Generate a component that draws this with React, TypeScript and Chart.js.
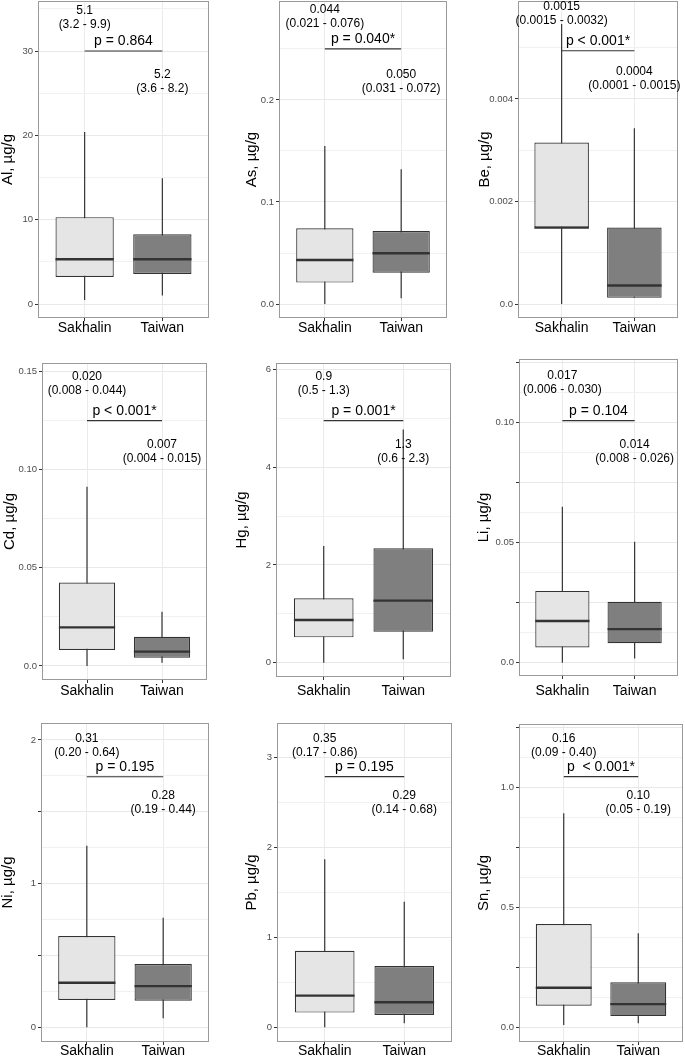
import React, { useEffect, useRef } from "react";
import { Chart, registerables } from "chart.js";

Chart.register(...registerables);

const FONT = "'Liberation Sans', Arial, Helvetica, sans-serif";

// ---------------- data ----------------
const elements = ["Al", "As", "Be", "Cd", "Hg", "Li", "Ni", "Pb", "Sn"];
const groups = ["Sakhalin", "Taiwan"];

// box-plot statistics (µg/g)
const sakhalinMin = [0.47, 0.0, 0.0, 0.0, 0.0, 0.0, 0.0, 0.0, 0.01];
const sakhalinQ1 = [3.2, 0.021, 0.00149, 0.0082, 0.519, 0.0063, 0.19, 0.163, 0.09];
const sakhalinMedian = [5.3, 0.0431, 0.00149, 0.0197, 0.873, 0.0174, 0.31, 0.352, 0.165];
const sakhalinQ3 = [10.3, 0.0742, 0.00315, 0.0425, 1.317, 0.0299, 0.635, 0.852, 0.431];
const sakhalinMax = [20.4, 0.155, 0.00546, 0.0914, 2.386, 0.065, 1.264, 1.869, 0.893];

const taiwanMin = [1.0, 0.0056, 0.00012, 0.0017, 0.07, 0.0018, 0.063, 0.044, 0.017];
const taiwanQ1 = [3.56, 0.0307, 0.00012, 0.0042, 0.634, 0.0081, 0.185, 0.137, 0.047];
const taiwanMedian = [5.3, 0.0497, 0.00036, 0.0073, 1.27, 0.014, 0.287, 0.278, 0.097];
const taiwanQ3 = [8.26, 0.0716, 0.00149, 0.0149, 2.34, 0.0254, 0.44, 0.682, 0.188];
const taiwanMax = [14.9, 0.132, 0.00343, 0.0277, 4.77, 0.0504, 0.763, 1.397, 0.392];

// annotation texts
const sakhalinMedianText = ["5.1", "0.044", "0.0015", "0.020", "0.9", "0.017", "0.31", "0.35", "0.16"];
const sakhalinRangeText = ["(3.2 - 9.9)", "(0.021 - 0.076)", "(0.0015 - 0.0032)", "(0.008 - 0.044)", "(0.5 - 1.3)", "(0.006 - 0.030)", "(0.20 - 0.64)", "(0.17 - 0.86)", "(0.09 - 0.40)"];
const taiwanMedianText = ["5.2", "0.050", "0.0004", "0.007", "1.3", "0.014", "0.28", "0.29", "0.10"];
const taiwanRangeText = ["(3.6 - 8.2)", "(0.031 - 0.072)", "(0.0001 - 0.0015)", "(0.004 - 0.015)", "(0.6 - 2.3)", "(0.008 - 0.026)", "(0.19 - 0.44)", "(0.14 - 0.68)", "(0.05 - 0.19)"];
const pValueText = ["p = 0.864", "p = 0.040*", "p < 0.001*", "p < 0.001*", "p = 0.001*", "p = 0.104", "p = 0.195", "p = 0.195", "p  < 0.001*"];

// annotation anchors in data units
const sakhalinLabelY = [34.0, 0.2812, 0.005655, 0.144, 5.71, 0.1165, 1.962, 3.137, 1.1765];
const pLineY = [30, 0.25, 0.00494, 0.125, 4.95, 0.1008, 1.744, 2.788, 1.0455];
const taiwanLabelY = [26.4, 0.218, 0.004387, 0.1094, 4.31, 0.0879, 1.561, 2.494, 0.936];

// axes
const yMin = [-1.66, -0.0137, -0.000273, -0.00714, -0.292, -0.00554, -0.102, -0.164, -0.061];
const yMax = [35.93, 0.297, 0.00591, 0.1544, 6.13, 0.1265, 2.118, 3.385, 1.265];
const yTickValues = [
  [0, 10, 20, 30],
  [0, 0.1, 0.2],
  [0, 0.002, 0.004],
  [0, 0.05, 0.1, 0.15],
  [0, 2, 4, 6],
  [0, 0.025, 0.05, 0.075, 0.1, 0.125],
  [0, 0.5, 1, 1.5, 2],
  [0, 1, 2, 3],
  [0, 0.25, 0.5, 0.75, 1, 1.25],
];
const yTickLabels = [
  ["0", "10", "20", "30"],
  ["0.0", "0.1", "0.2"],
  ["0.0", "0.002", "0.004"],
  ["0.0", "0.05", "0.10", "0.15"],
  ["0", "2", "4", "6"],
  ["0.0", "", "0.05", "", "0.10", ""],
  ["0", "", "1", "", "2"],
  ["0", "1", "2", "3"],
  ["0.0", "", "0.5", "", "1.0", ""],
];
const yMinorStep = [5, 0.05, 0.001, 0.025, 1, 0.0125, 0.25, 0.5, 0.125];

// ---------------- layout (page pixels) ----------------
const cellX = [0, 228, 455];
const cellW = [228, 227, 230];
const cellY = [0, 340, 700];
const cellH = [340, 360, 358];
const plotLeft = [38, 279, 518, 42, 276, 519, 41, 277, 519];
const plotTop = [1, 1, 1, 363, 363, 359, 723, 723, 724];
const plotRight = [209, 447, 678, 207, 451, 678, 209, 452, 683];
const plotBottom = [318, 318, 318, 680, 677, 676, 1042, 1042, 1042];
const titleCenterX = [8, 252, 485, 10, 242, 484, 8, 252, 484];
const xLabelCenterY = [328, 328, 328, 691, 691, 691, 1051.5, 1051.5, 1051.5];

const BOX_FILL = ["#e5e5e5", "#7f7f7f"];
const INK = "#333333";
const TITLE_SIZE = 15;

function geom(i: number) {
  const col = i % 3;
  const row = Math.floor(i / 3);
  return { x: cellX[col], y: cellY[row], w: cellW[col], h: cellH[row] };
}

function makePlugin(i: number) {
  const mins = [sakhalinMin[i], taiwanMin[i]];
  const maxs = [sakhalinMax[i], taiwanMax[i]];
  const meds = [sakhalinMedian[i], taiwanMedian[i]];
  return {
    id: "boxAnno" + i,
    beforeDatasetsDraw(chart: any) {
      const { ctx } = chart;
      const xs = chart.scales.x;
      const ys = chart.scales.y;
      ctx.save();
      ctx.strokeStyle = INK;
      ctx.lineWidth = 1.2;
      groups.forEach((_, j) => {
        const x = xs.getPixelForValue(j);
        ctx.beginPath();
        ctx.moveTo(x, ys.getPixelForValue(mins[j]));
        ctx.lineTo(x, ys.getPixelForValue(maxs[j]));
        ctx.stroke();
      });
      ctx.restore();
    },
    afterDatasetsDraw(chart: any) {
      const { ctx, chartArea } = chart;
      const xs = chart.scales.x;
      const ys = chart.scales.y;
      const meta = chart.getDatasetMeta(0);
      ctx.save();
      // medians
      ctx.strokeStyle = INK;
      ctx.lineWidth = 2.4;
      meta.data.forEach((bar: any, j: number) => {
        const { x, width } = bar.getProps(["x", "width"], true);
        const y = ys.getPixelForValue(meds[j]);
        ctx.beginPath();
        ctx.moveTo(x - width / 2, y);
        ctx.lineTo(x + width / 2, y);
        ctx.stroke();
      });
      // panel border
      ctx.strokeStyle = "#9a9a9a";
      ctx.lineWidth = 1;
      ctx.strokeRect(
        chartArea.left + 0.5,
        chartArea.top + 0.5,
        chartArea.right - chartArea.left - 1,
        chartArea.bottom - chartArea.top - 1
      );
      // annotations
      ctx.fillStyle = "#000";
      ctx.textAlign = "center";
      ctx.textBaseline = "middle";
      ctx.font = `12px ${FONT}`;
      const x0 = xs.getPixelForValue(0);
      const x1 = xs.getPixelForValue(1);
      const ys0 = ys.getPixelForValue(sakhalinLabelY[i]);
      ctx.fillText(sakhalinMedianText[i], x0, ys0 - 7);
      ctx.fillText(sakhalinRangeText[i], x0, ys0 + 7);
      const ys1 = ys.getPixelForValue(taiwanLabelY[i]);
      ctx.fillText(taiwanMedianText[i], x1, ys1 - 7);
      ctx.fillText(taiwanRangeText[i], x1, ys1 + 7);
      const yl = ys.getPixelForValue(pLineY[i]);
      ctx.strokeStyle = INK;
      ctx.lineWidth = 1.2;
      ctx.beginPath();
      ctx.moveTo(x0, yl);
      ctx.lineTo(x1, yl);
      ctx.stroke();
      ctx.font = `14px ${FONT}`;
      ctx.fillText(pValueText[i], (x0 + x1) / 2, yl - 9.5);
      ctx.restore();
    },
  };
}

function makeChart(canvas: HTMLCanvasElement, i: number) {
  const g = geom(i);
  const yScaleWidth = plotLeft[i] - g.x;
  const xScaleHeight = g.y + g.h - plotBottom[i];
  const padTop = plotTop[i] - g.y;
  const padRight = g.x + g.w - plotRight[i];
  const step = yMinorStep[i];
  const tickVals = yTickValues[i];
  const tickLabs = yTickLabels[i];
  const tickIndex = (v: number) => tickVals.findIndex((t) => Math.abs(t - v) < step * 1e-3);
  const gridVals: number[] = [];
  for (let k = Math.ceil(yMin[i] / step - 1e-9); k * step <= yMax[i] + step * 1e-9; k++) {
    gridVals.push(parseFloat((k * step).toPrecision(10)));
  }
  const xPad = xLabelCenterY[i] - plotBottom[i] - 3 - 7;
  const q1 = [sakhalinQ1[i], taiwanQ1[i]];
  const q3 = [sakhalinQ3[i], taiwanQ3[i]];

  return new Chart(canvas, {
    type: "bar",
    data: {
      datasets: [
        {
          data: groups.map((_, j) => ({ x: j, y: [q1[j], q3[j]] })) as any,
          backgroundColor: BOX_FILL,
          borderColor: INK,
          borderWidth: 1.2,
          borderSkipped: false,
          barPercentage: 0.75,
          categoryPercentage: 1,
        },
      ],
    },
    options: {
      responsive: false,
      animation: false,
      devicePixelRatio: 1,
      events: [],
      layout: { padding: { left: 0, top: padTop, right: padRight, bottom: 0 } },
      plugins: { legend: { display: false }, tooltip: { enabled: false } },
      scales: {
        x: {
          type: "linear",
          min: -0.6,
          max: 1.6,
          offset: false,
          afterBuildTicks: (s: any) => {
            s.ticks = groups.map((_, j) => ({ value: j }));
          },
          afterFit: (s: any) => {
            s.height = xScaleHeight;
            s.paddingLeft = 0;
            s.paddingRight = 0;
          },
          ticks: {
            autoSkip: false,
            maxRotation: 0,
            padding: xPad,
            color: "#000",
            font: { family: FONT, size: 14, lineHeight: 1 },
            callback: (v: any) => groups[v] ?? "",
          },
          grid: { color: "#ebebeb", lineWidth: 1, tickLength: 3, tickColor: INK, offset: false },
          border: { display: false },
        },
        y: {
          type: "linear",
          min: yMin[i],
          max: yMax[i],
          bounds: "data",
          afterBuildTicks: (s: any) => {
            s.ticks = gridVals.map((v) => ({ value: v }));
          },
          afterFit: (s: any) => {
            s.width = yScaleWidth;
            s.paddingTop = 0;
            s.paddingBottom = 0;
          },
          ticks: {
            autoSkip: false,
            padding: 2,
            color: "#4d4d4d",
            font: { family: FONT, size: 9.5, lineHeight: 1 },
            callback: (v: any) => {
              const k = tickIndex(v);
              return k >= 0 ? tickLabs[k] : "";
            },
          },
          grid: {
            color: (c: any) => (c.tick && tickIndex(c.tick.value) >= 0 ? "#e8e8e8" : "#f1f1f1"),
            lineWidth: 1,
            tickLength: 3,
            tickColor: (c: any) => (c.tick && tickIndex(c.tick.value) >= 0 ? INK : "rgba(0,0,0,0)"),
          },
          border: { display: false },
          title: {
            display: true,
            text: `${elements[i]}, µg/g`,
            color: "#000",
            font: { family: FONT, size: TITLE_SIZE, lineHeight: 1 },
            padding: { top: Math.max(0, titleCenterX[i] - g.x - TITLE_SIZE / 2), bottom: 0 },
          },
        },
      },
    } as any,
    plugins: [makePlugin(i)],
  });
}

export default function App() {
  const refs = useRef<(HTMLCanvasElement | null)[]>([]);
  useEffect(() => {
    const charts = elements.map((_, i) => makeChart(refs.current[i] as HTMLCanvasElement, i));
    return () => charts.forEach((c) => c.destroy());
  }, []);
  return (
    <div style={{ position: "absolute", left: 0, top: 0, width: 685, height: 1058, background: "#fff" }}>
      {elements.map((el, i) => {
        const g = geom(i);
        return (
          <canvas
            key={el}
            ref={(c) => {
              refs.current[i] = c;
            }}
            width={g.w}
            height={g.h}
            style={{ position: "absolute", left: g.x, top: g.y, width: g.w, height: g.h }}
          />
        );
      })}
    </div>
  );
}
